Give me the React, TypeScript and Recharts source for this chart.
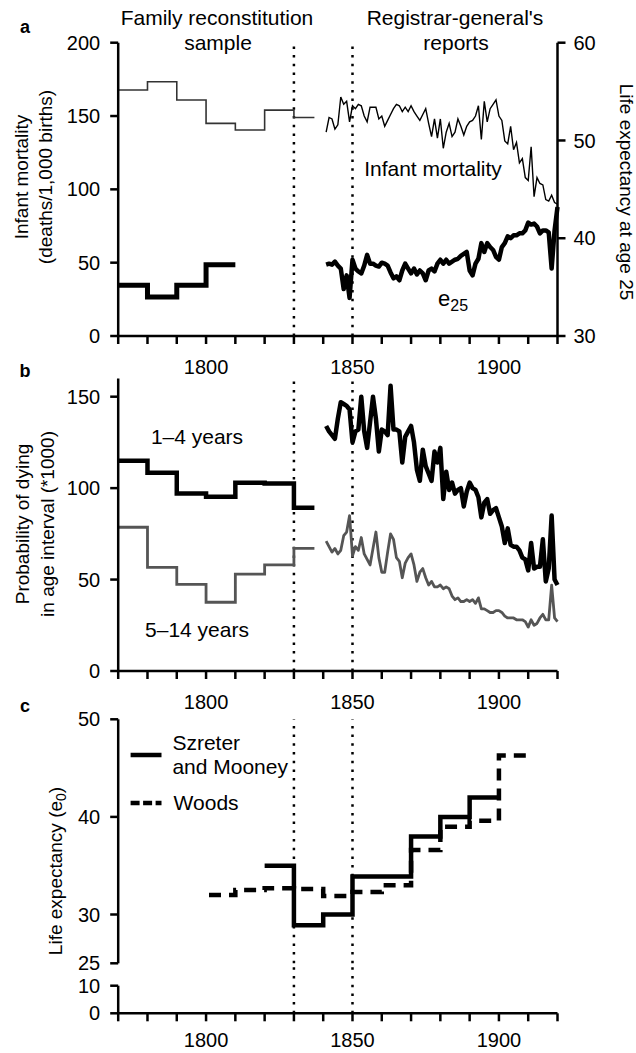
import React from 'react'
import { LineChart, Line, XAxis, YAxis, ReferenceLine } from 'recharts'

const FONT = '"Liberation Sans", Arial, Helvetica, sans-serif'

// x axis: decade ticks, only three of them labelled
const decadeTicks = [1770, 1780, 1790, 1800, 1810, 1820, 1830, 1840, 1850, 1860, 1870, 1880, 1890, 1900, 1910, 1920]
const labelledYears = [1800, 1850, 1900]
const markerYears = [1830, 1850]

// family reconstitution steps (decade averages)
const stepYears = [1770, 1780, 1790, 1800, 1810, 1820, 1830, 1837]
const imrStep = [167.7, 173.4, 160.9, 145, 140.5, 154, 149, 149]
const e25StepYears = [1770, 1780, 1790, 1800, 1810]
const e25Step = [35.2, 34.0, 35.2, 37.3, 37.3]
const q1to4Step = [115, 108.4, 97.1, 95.3, 103, 102.5, 89.3, 89.3]
const q5to14Step = [78.6, 56.7, 47.4, 37.6, 53, 58, 67.1, 67.1]

// registrar-general annual series, 1841-1920
const annualYears = Array.from({ length: 80 }, (_, i) => 1841 + i)
const imrAnnual = [
  139, 149, 148, 141, 144, 163, 158, 160, 146, 157,
  155, 158, 157, 150, 146, 156, 156, 156, 148, 150,
  143, 147, 151, 155, 158, 157, 153, 156, 153, 157,
  153, 150, 147, 151, 155, 145, 136, 148, 135, 148,
  128, 139, 145, 136, 139, 148, 143, 137, 143, 146,
  147, 150, 157, 134, 160, 146, 155, 158, 161, 150,
  147, 133, 131, 143, 127, 132, 118, 121, 108, 106,
  129, 95, 108, 104, 103, 93, 92, 96, 91, 90
]
const e25Annual = [
  37.3, 37.4, 37.3, 37.6, 37.2, 36.9, 34.8, 36.2, 33.9, 37.8,
  36.9, 36.6, 36.4, 37.2, 38.3, 37.4, 37.4, 37.2, 37.1, 37.5,
  37.4, 37.2, 36.5, 35.9, 36.1, 35.7, 36.7, 37.4, 36.9, 36.4,
  36.9, 36.3, 36.7, 36.4, 35.7, 36.7, 36.9, 36.6, 37.4, 37.8,
  37.4, 37.8, 37.4, 37.6, 37.8, 37.9, 38.2, 38.4, 38.6, 36.7,
  36.2, 37.4, 37.9, 39.5, 38.6, 39.5, 39.1, 38.8, 38.1, 37.8,
  39.1, 39.5, 40.2, 40.0, 40.3, 40.3, 40.5, 40.5, 40.8, 41.6,
  41.4, 41.5, 41.2, 40.5, 40.8, 40.8, 40.6, 36.9, 40.8, 43.2
]
const q1to4Annual = [
  134, 131, 129, 127, 138, 147, 146, 145, 143, 125,
  131, 132, 150, 131, 122, 136, 150, 138, 120, 132,
  131, 129, 156, 132, 132, 131, 114, 128, 131, 134,
  125, 110, 104, 121, 112, 108, 104, 120, 114, 122,
  94, 109, 99, 103, 97, 99, 100, 90, 98, 103,
  100, 99, 95, 84, 92, 94, 86, 88, 89, 84,
  79, 70, 78, 69, 68, 68, 66, 62, 61, 55,
  70, 56, 57, 57, 72, 49, 56, 85, 50, 47
]
const q5to14Annual = [
  71, 68, 65, 67, 64, 66, 74, 76, 85, 63,
  68, 66, 73, 64, 61, 58, 67, 76, 62, 54,
  54, 65, 75, 72, 62, 60, 51, 59, 62, 64,
  58, 49, 54, 56, 51, 47, 49, 46, 46, 47,
  45, 46, 45, 41, 39, 40, 38, 38, 39, 38,
  39, 37, 40, 34, 34, 33, 32, 32, 33, 33,
  32, 30, 29, 29, 29, 28, 28, 28, 27, 24,
  28, 25, 26, 29, 31, 28, 28, 47, 29, 27
]

// panel c: life expectancy at birth
const szreterYears = [1820, 1830, 1840, 1850, 1860, 1870, 1880, 1890, 1900]
const szreterE0 = [35, 28.9, 30, 33.9, 33.9, 38, 40, 42, 42]
const woodsYears = [1801, 1810, 1820, 1830, 1840, 1850, 1860, 1870, 1880, 1890, 1900, 1910]
const woodsE0 = [32, 32.5, 32.7, 32.6, 31.9, 32.3, 33, 36.6, 39, 39.6, 46.3, 46.3]

const pts = (xs: number[], ys: number[]) => xs.map((x, i) => ({ x, y: ys[i] }))

const axisStroke = { stroke: '#000', strokeWidth: 2.5 }
const tickText = { fill: '#000', fontSize: 20, fontFamily: FONT }

const xAxis = (height: number, hide = false, margin = 16) => (
  <XAxis
    type="number"
    dataKey="x"
    domain={[1770, 1920]}
    ticks={decadeTicks}
    interval={0}
    tickFormatter={(v: number) => (labelledYears.includes(v) ? String(v) : '')}
    tick={tickText}
    tickSize={8}
    tickMargin={margin}
    axisLine={axisStroke}
    tickLine={axisStroke}
    height={height}
    hide={hide}
  />
)

const markers = (yAxisId: string) =>
  markerYears.map((yr) => (
    <ReferenceLine
      key={yr}
      x={yr}
      yAxisId={yAxisId}
      stroke="#000"
      strokeWidth={2.5}
      strokeDasharray="2.5 6.2"
    />
  ))

const leftAxis = (domain: number[], ticks: number[], extra: any = {}) => (
  <YAxis
    yAxisId="l"
    type="number"
    domain={domain}
    ticks={ticks}
    interval={0}
    width={118.2}
    tick={tickText}
    tickSize={8}
    tickMargin={10}
    axisLine={axisStroke}
    tickLine={axisStroke}
    allowDataOverflow
    {...extra}
  />
)

// both e0 series, shared by the two halves of the broken axis
const e0Lines = () => [
  <Line key="woods" yAxisId="l" data={pts(woodsYears, woodsE0)} dataKey="y" type="stepAfter"
    stroke="#000" strokeWidth={4.5} strokeDasharray="12 8" dot={false} isAnimationActive={false} />,
  <Line key="szreter" yAxisId="l" data={pts(szreterYears, szreterE0)} dataKey="y" type="stepAfter"
    stroke="#000" strokeWidth={4.5} dot={false} isAnimationActive={false} />
]

const Txt = (p: any) => <text fontFamily={FONT} fill="#000" {...p} />

export default function App() {
  return (
    <div style={{ position: 'absolute', left: 0, top: 0, width: 636, height: 1053, background: '#fff' }}>
      {/* panel a */}
      <div style={{ position: 'absolute', left: 0, top: 0 }}>
        <LineChart width={636} height={380} margin={{ top: 42.7, right: 0, bottom: 0, left: 0 }}>
          {xAxis(44)}
          {leftAxis([0, 200], [0, 50, 100, 150, 200])}
          <YAxis
            yAxisId="r"
            orientation="right"
            type="number"
            domain={[30, 60]}
            ticks={[30, 40, 50, 60]}
            width={78.5}
            tick={tickText}
            tickSize={8}
            tickMargin={8}
            axisLine={axisStroke}
            tickLine={axisStroke}
          />
          {markers('l')}
          <Line yAxisId="l" data={pts(stepYears, imrStep)} dataKey="y" type="stepAfter"
            stroke="#333" strokeWidth={1.6} dot={false} isAnimationActive={false} />
          <Line yAxisId="l" data={pts(annualYears, imrAnnual)} dataKey="y" type="linear"
            stroke="#000" strokeWidth={1.4} dot={false} isAnimationActive={false} />
          <Line yAxisId="r" data={pts(e25StepYears, e25Step)} dataKey="y" type="stepAfter"
            stroke="#000" strokeWidth={5} dot={false} isAnimationActive={false} />
          <Line yAxisId="r" data={pts(annualYears, e25Annual)} dataKey="y" type="linear"
            stroke="#000" strokeWidth={4.5} strokeLinejoin="round" dot={false} isAnimationActive={false} />
        </LineChart>
      </div>

      {/* panel b */}
      <div style={{ position: 'absolute', left: 0, top: 370 }}>
        <LineChart width={636} height={350} margin={{ top: 8.4, right: 78.5, bottom: 10, left: 0 }}>
          {xAxis(39)}
          {leftAxis([0, 160], [0, 50, 100, 150])}
          {markers('l')}
          <Line yAxisId="l" data={pts(stepYears, q1to4Step)} dataKey="y" type="stepAfter"
            stroke="#000" strokeWidth={4.5} dot={false} isAnimationActive={false} />
          <Line yAxisId="l" data={pts(annualYears, q1to4Annual)} dataKey="y" type="linear"
            stroke="#000" strokeWidth={4.5} strokeLinejoin="round" dot={false} isAnimationActive={false} />
          <Line yAxisId="l" data={pts(stepYears, q5to14Step)} dataKey="y" type="stepAfter"
            stroke="#555" strokeWidth={2.8} dot={false} isAnimationActive={false} />
          <Line yAxisId="l" data={pts(annualYears, q5to14Annual)} dataKey="y" type="linear"
            stroke="#555" strokeWidth={2.8} strokeLinejoin="round" dot={false} isAnimationActive={false} />
        </LineChart>
      </div>

      {/* panel c, upper part of the broken axis (25-50) */}
      <div style={{ position: 'absolute', left: 0, top: 700 }}>
        <LineChart width={636} height={280} margin={{ top: 19.3, right: 78.5, bottom: 16.7, left: 0 }}>
          {xAxis(0, true)}
          {leftAxis([25, 50], [25, 30, 40, 50])}
          {markers('l')}
          {e0Lines()}
        </LineChart>
      </div>

      {/* panel c, lower part of the broken axis (0-10); the series fall outside it and are clipped */}
      <div style={{ position: 'absolute', left: 0, top: 955 }}>
        <LineChart width={636} height={98} margin={{ top: 8.3, right: 78.5, bottom: 0, left: 0 }}>
          {xAxis(39.7, false, 11)}
          {leftAxis([0, 18.12], [0, 10], { axisLine: false })}
          {markers('l')}
          <ReferenceLine yAxisId="l" segment={[{ x: 1770, y: 0 }, { x: 1770, y: 10 }]}
            stroke="#000" strokeWidth={2.5} />
          {e0Lines()}
        </LineChart>
      </div>

      {/* text overlay */}
      <svg width={636} height={1053} style={{ position: 'absolute', left: 0, top: 0, pointerEvents: 'none' }}>
        <Txt x={25} y={33} fontSize={18} fontWeight="bold" textAnchor="middle">a</Txt>
        <Txt x={25} y={377} fontSize={18} fontWeight="bold" textAnchor="middle">b</Txt>
        <Txt x={25} y={712} fontSize={18} fontWeight="bold" textAnchor="middle">c</Txt>

        <Txt x={217} y={25} fontSize={21} textAnchor="middle">Family reconstitution</Txt>
        <Txt x={218} y={50} fontSize={21} textAnchor="middle">sample</Txt>
        <Txt x={455} y={25} fontSize={21} textAnchor="middle">Registrar-general's</Txt>
        <Txt x={456} y={50} fontSize={21} textAnchor="middle">reports</Txt>

        <Txt transform="translate(28,177) rotate(-90)" fontSize={19} textAnchor="middle">Infant  mortality</Txt>
        <Txt transform="translate(52,177) rotate(-90)" fontSize={19} textAnchor="middle">(deaths/1,000 births)</Txt>
        <Txt transform="translate(620,192) rotate(90)" fontSize={19} textAnchor="middle">Life expectancy at age 25</Txt>

        <Txt x={433} y={176} fontSize={21} textAnchor="middle">Infant mortality</Txt>
        <Txt x={438} y={306} fontSize={22}>
          e<tspan fontSize={16} dy={5}>25</tspan>
        </Txt>

        <Txt transform="translate(29,524) rotate(-90)" fontSize={19} textAnchor="middle">Probability of dying</Txt>
        <Txt transform="translate(53.5,524) rotate(-90)" fontSize={19} textAnchor="middle">in age interval (*1000)</Txt>
        <Txt x={197} y={444} fontSize={21} textAnchor="middle">1–4 years</Txt>
        <Txt x={197} y={637} fontSize={21} textAnchor="middle">5–14 years</Txt>

        <Txt transform="translate(62,871) rotate(-90)" fontSize={19} textAnchor="middle">
          Life expectancy (e<tspan fontSize={14} dy={4}>0</tspan><tspan dy={-4}>)</tspan>
        </Txt>

        <line x1={130.6} x2={161.5} y1={755} y2={755} stroke="#000" strokeWidth={4.5} />
        <Txt x={172.4} y={750} fontSize={21}>Szreter</Txt>
        <Txt x={172.4} y={774} fontSize={21}>and Mooney</Txt>
        <line x1={130.6} x2={161.5} y1={803} y2={803} stroke="#000" strokeWidth={4.5} strokeDasharray="9 3.5" />
        <Txt x={173.6} y={810} fontSize={21}>Woods</Txt>
      </svg>
    </div>
  )
}
